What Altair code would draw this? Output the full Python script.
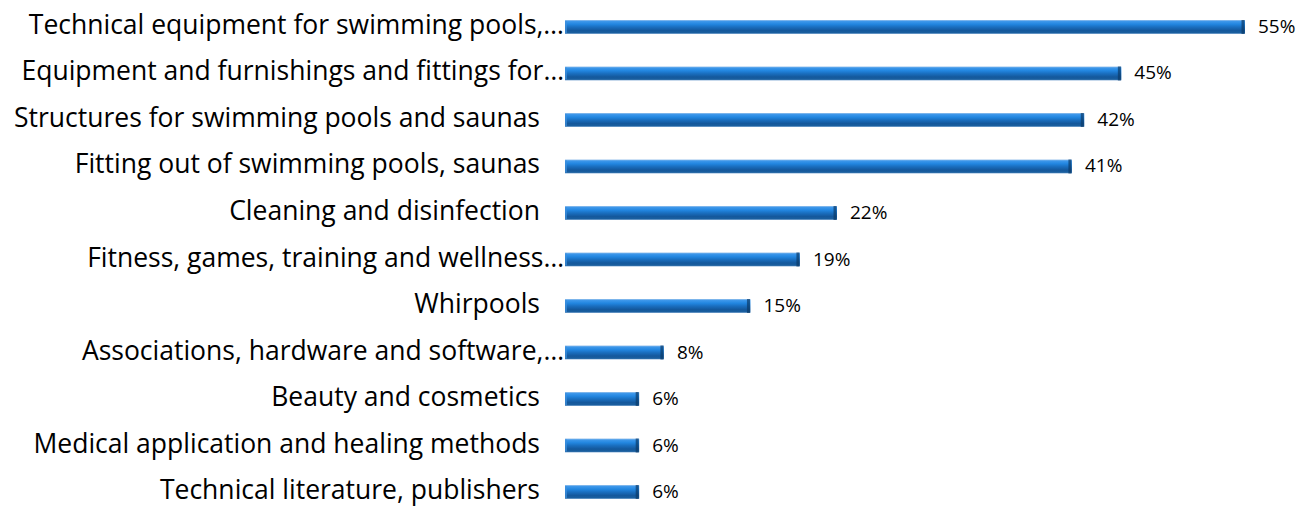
import altair as alt
import pandas as pd

categories = [
    "Technical equipment for swimming pools,…",
    "Equipment and furnishings and fittings for…",
    "Structures for swimming pools and saunas",
    "Fitting out of swimming pools, saunas",
    "Cleaning and disinfection",
    "Fitness, games, training and wellness…",
    "Whirpools",
    "Associations, hardware and software,…",
    "Beauty and cosmetics",
    "Medical application and healing methods",
    "Technical literature, publishers",
]
values = [55, 45, 42, 41, 22, 19, 15, 8, 6, 6, 6]
labels = [f"{v}%" for v in values]

df = pd.DataFrame({"category": categories, "value": values, "label": labels})

grad = alt.LinearGradient(
    gradient="linear",
    x1=0, x2=0, y1=0, y2=1,
    stops=[
        alt.GradientStop(offset=0, color="#9cc4ec"),
        alt.GradientStop(offset=0.1, color="#3d97ea"),
        alt.GradientStop(offset=0.3, color="#2286e0"),
        alt.GradientStop(offset=0.5, color="#1a6fc0"),
        alt.GradientStop(offset=0.75, color="#14589c"),
        alt.GradientStop(offset=0.92, color="#1a5f9f"),
        alt.GradientStop(offset=1, color="#8fb3d9"),
    ],
)

y = alt.Y(
    "category:N",
    sort=None,
    title=None,
    scale=alt.Scale(paddingInner=0.70, paddingOuter=0),
    axis=None,
)
xscale = alt.Scale(domain=[0, 55])
x = alt.X("value:Q", scale=xscale, axis=None)
x0 = alt.X("zero:Q", scale=xscale, axis=None)

base = alt.Chart(df).encode(y=y)

bars = base.mark_bar(fill=grad).encode(x=x)
ends = base.mark_tick(color="#0b3a68", thickness=3, xOffset=-2, size=14).encode(x=x)
starts = base.mark_tick(color="#3d8fdc", thickness=2, xOffset=1, size=12).encode(
    x=x0
).transform_calculate(zero="0")

text = base.mark_text(
    align="left", dx=13, fontSize=19, font="Open Sans", color="#000000"
).encode(x=x, text="label:N")

is_trunc = "indexof(datum.category, '…') >= 0"
cat_full = base.mark_text(
    align="right", dx=-25, dy=-1, fontSize=26.5, font="Open Sans", color="#000000"
).encode(x=x0, text="category:N").transform_calculate(zero="0").transform_filter(
    "!(" + is_trunc + ")"
)
cat_trunc = base.mark_text(
    align="right", dx=-1, dy=-1, fontSize=26.5, font="Open Sans", color="#000000"
).encode(x=x0, text="category:N").transform_calculate(zero="0").transform_filter(
    is_trunc
)

chart = (
    alt.layer(bars, starts, ends, text, cat_full, cat_trunc)
    .properties(
        width=680,
        height=479,
        padding={"left": 565, "right": 55, "top": 20, "bottom": 7},
        autosize=alt.AutoSizeParams(type="none"),
        background="white",
    )
    .configure_view(stroke=None)
)

chart.save("out.html", embed_options={"renderer": "svg", "actions": False})
